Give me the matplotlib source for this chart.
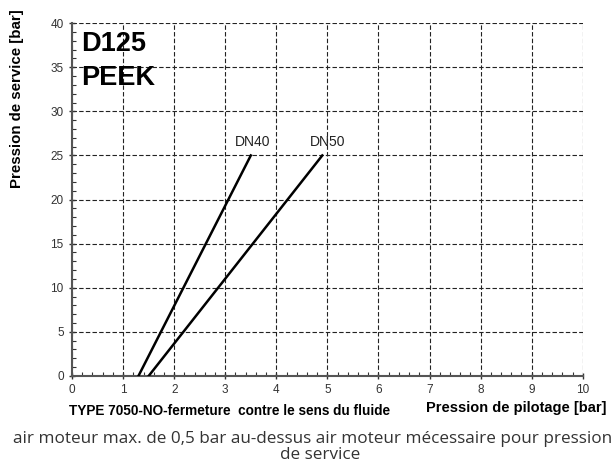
import numpy as np
import matplotlib
matplotlib.use("Agg")
import matplotlib.pyplot as plt
from matplotlib.ticker import MultipleLocator

plt.rcParams["font.family"] = ["Liberation Sans", "DejaVu Sans"]

# curves: pilot pressure (x) vs service pressure (y)
dn40_x = [1.3, 3.5]
dn40_y = [0, 25]
dn50_x = [1.5, 4.9]
dn50_y = [0, 25]

x_ticks = list(range(0, 11))
y_ticks = list(range(0, 41, 5))

fig = plt.figure(figsize=(6.16, 4.63), dpi=100)
ax = fig.add_axes([0.117, 0.188, 0.829, 0.762])

ax.plot(dn40_x, dn40_y, color="black", linewidth=1.8, zorder=3)
ax.plot(dn50_x, dn50_y, color="black", linewidth=1.8, zorder=3)

ax.text(3.53, 26.5, "DN40", ha="center", va="center", fontsize=10, color="#222")
ax.text(5.0, 26.5, "DN50", ha="center", va="center", fontsize=10, color="#222")
ax.text(0.18, 39.1, "D125\nPEEK", ha="left", va="top", fontsize=19.5,
        fontweight="bold", linespacing=1.4)

ax.set_xlim(0, 10)
ax.set_ylim(0, 40)
ax.set_xticks(x_ticks)
ax.set_yticks(y_ticks)
ax.xaxis.set_minor_locator(MultipleLocator(0.2))
ax.yaxis.set_minor_locator(MultipleLocator(1))
ax.tick_params(which="major", direction="inout", length=5, width=1,
               labelsize=8.5, labelcolor="#333", color="#333")
ax.tick_params(which="minor", direction="in", length=3, width=0.8, color="#333")

ax.grid(True, which="major", linestyle=(0, (4, 2)), color="#222", linewidth=0.8)
for s in ["top", "right"]:
    ax.spines[s].set_visible(False)
for s in ["left", "bottom"]:
    ax.spines[s].set_color("#555")
    ax.spines[s].set_linewidth(1.5)
ax.set_axisbelow(True)

fig.text(0.028, 1 - 99 / 463, "Pression de service [bar]", rotation=90,
         ha="center", va="center", fontsize=10.8, fontweight="bold")

fig.text(0.984, 0.118, "Pression de pilotage [bar]", ha="right", va="center",
         fontsize=10.5, fontweight="bold")
fig.text(0.373, 0.112, "TYPE 7050-NO-fermeture  contre le sens du fluide",
         ha="center", va="center", fontsize=9.8, fontweight="bold")
fig.text(0.508, 1 - 443 / 463,
         "air moteur max. de 0,5 bar au-dessus air moteur mécessaire pour pression",
         ha="center", va="baseline", fontsize=12.3, color="#333",
         family=["Open Sans", "DejaVu Sans"])
fig.text(0.52, 1 - 459 / 463, "de service",
         ha="center", va="baseline", fontsize=12.3, color="#333",
         family=["Open Sans", "DejaVu Sans"])

fig.savefig("out.png", dpi=100)
